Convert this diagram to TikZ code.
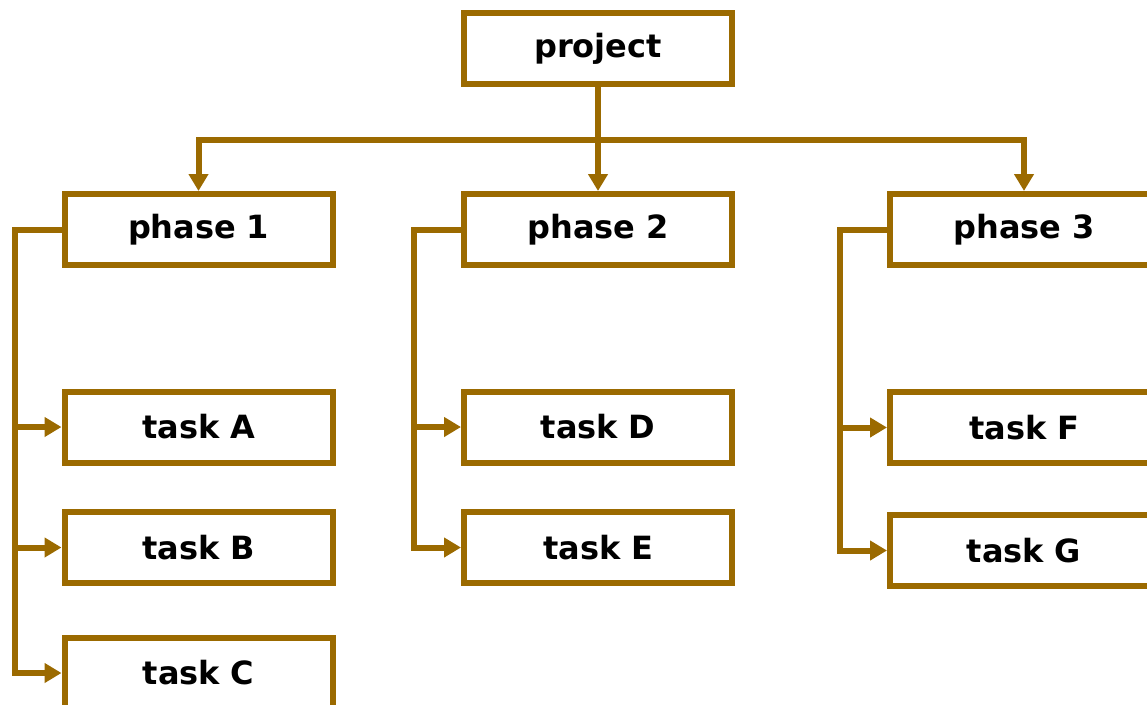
\documentclass[tikz,border=0pt]{standalone}
\usepackage{fontspec}
\setmainfont{DejaVu Sans}
\usetikzlibrary{arrows.meta}
\definecolor{brn}{RGB}{155,106,0}
\begin{document}
\begin{tikzpicture}[x=1pt,y=-1pt,
  box/.style={draw=brn,line width=6pt,fill=white,minimum width=268pt,minimum height=71pt,inner sep=0pt,font=\fontsize{32}{35}\selectfont\bfseries},
  conn/.style={draw=brn,line width=6pt},
  arr/.style={conn,-{Triangle[width=19pt,length=17pt]}}]
\useasboundingbox (0,0) rectangle (1147,704);
\node[box] (project) at (598,48.5) {project};
\node[box] (p1) at (198.5,229.5) {phase\,\,1};
\node[box] (p2) at (598,229.5) {phase\,\,2};
\node[box] (p3) at (1024,229.5) {phase\,\,3};
\node[box] (tA) at (198.5,427) {task\,\,A};
\node[box] (tB) at (198.5,547.5) {task\,\,B};
\node[box] (tC) at (198.5,673) {task\,\,C};
\node[box] (tD) at (598,427) {task\,\,D};
\node[box] (tE) at (598,547.5) {task\,\,E};
\node[box] (tF) at (1024,427.5) {task\,\,F};
\node[box] (tG) at (1024,550.5) {task\,\,G};
\coordinate (bus) at (598,140);
\coordinate (l1) at (14.5,229.5);
\coordinate (l2) at (413.5,229.5);
\coordinate (l3) at (839.5,229.5);
\draw[conn] (project.south) -- (bus);
\draw[arr] (bus) -| (p1.north);
\draw[arr] (bus) -- (p2.north);
\draw[arr] (bus) -| (p3.north);
\draw[arr] (p1.west) -- (l1) |- (tA.west);
\draw[arr] (l1) |- (tB.west);
\draw[arr] (l1) |- (tC.west);
\draw[arr] (p2.west) -- (l2) |- (tD.west);
\draw[arr] (l2) |- (tE.west);
\draw[arr] (p3.west) -- (l3) |- (tF.west);
\draw[arr] (l3) |- (tG.west);
\end{tikzpicture}
\end{document}
